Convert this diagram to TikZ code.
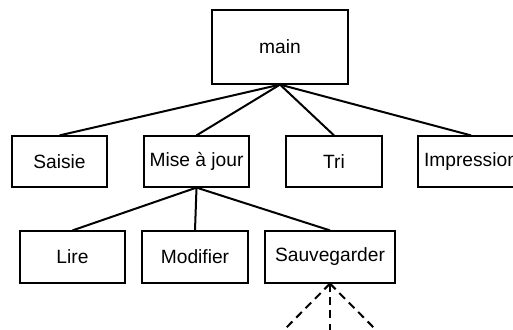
\documentclass[tikz,border=0pt]{standalone}
\usepackage{fontspec}
\setmainfont{Liberation Sans}
\begin{document}
\begin{tikzpicture}[x=0.75pt,y=-0.75pt,
  box/.style={draw=black,line width=0.9pt,inner sep=0pt,font=\fontsize{14.4pt}{17pt}\selectfont},
  link/.style={line width=1.5pt},
  dlink/.style={line width=1.5pt,dash pattern=on 6pt off 4pt}]
\useasboundingbox (0,0) rectangle (513,329);
\clip (0,0) rectangle (513,329);
\node[box,minimum width=102pt,minimum height=55.5pt] (main) at (280,47) {main};
\node[box,minimum width=71.25pt,minimum height=38.25pt] (saisie) at (59.5,161.5) {Saisie};
\node[box,minimum width=78.75pt,minimum height=38.25pt] (maj) at (196.5,161.5) {Mise à jour};
\node[box,minimum width=72pt,minimum height=38.25pt] (tri) at (334,161.5) {Tri};
\node[box,minimum width=79.5pt,minimum height=38.25pt] (impr) at (471,161.5) {Impression};
\node[box,minimum width=78.75pt,minimum height=39pt] (lire) at (72.5,257) {Lire};
\node[box,minimum width=79.5pt,minimum height=39pt] (modif) at (195,257) {Modifier};
\node[box,minimum width=97.5pt,minimum height=39pt] (sauv) at (330,257) {Sauvegarder};
\foreach \t in {saisie,maj,tri,impr} \draw[link] (main.south) -- (\t.north);
\foreach \t in {lire,modif,sauv} \draw[link] (maj.south) -- (\t.north);
\coordinate (d1) at (276,338);
\coordinate (d2) at (330,340);
\coordinate (d3) at (384,338);
\foreach \t in {d1,d2,d3} \draw[dlink] (sauv.south) -- (\t);
\end{tikzpicture}
\end{document}
